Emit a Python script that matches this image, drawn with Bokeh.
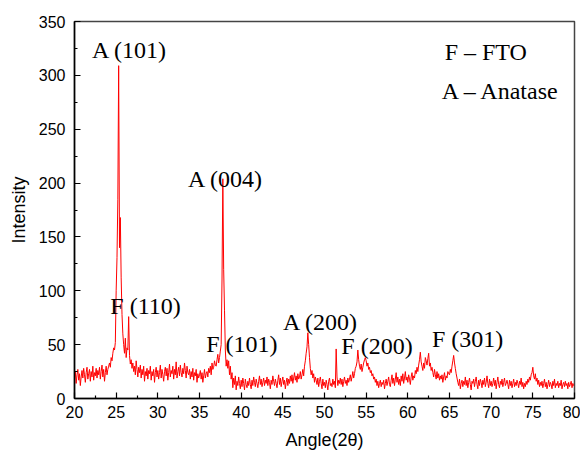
from bokeh.plotting import figure
from bokeh.models import FixedTicker, ColumnDataSource
from bokeh.core.properties import value
from bokeh.embed import file_html
from bokeh.resources import INLINE

# ---- data ----
angle_start = 20.0
angle_step = 0.1
intensity = [
    18, 25, 14, 22, 27, 17, 23, 12, 20, 26,    # 20
    19, 28, 22, 15, 24, 29, 18, 23, 27, 16,    # 21
    25, 20, 30, 17, 24, 21, 28, 19, 26, 22,    # 22
    29, 18, 25, 31, 20, 27, 16, 24, 30, 22,    # 23
    27, 30, 33, 29, 38, 35, 42, 47, 45, 52,    # 24
    100, 131, 185, 309, 140, 168, 112, 78, 60, 50,  # 25
    42, 56, 38, 47, 45, 76, 40, 32, 36, 28,    # 26
    33, 25, 30, 22, 35, 27, 20, 29, 24, 31,    # 27
    19, 27, 22, 30, 16, 25, 21, 28, 18, 26,    # 28
    23, 30, 17, 25, 21, 27, 15, 24, 29, 20,    # 29
    26, 18, 24, 31, 19, 27, 22, 16, 25, 29,    # 30
    21, 28, 17, 24, 32, 20, 26, 23, 30, 18,    # 31
    27, 22, 34, 19, 25, 29, 21, 31, 24, 20,    # 32
    28, 23, 33, 26, 19, 30, 24, 22, 27, 18,    # 33
    25, 20, 28, 17, 24, 21, 27, 15, 23, 19,    # 34
    22, 26, 18, 24, 15, 21, 27, 19, 23, 25,    # 35
    20, 28, 24, 30, 22, 33, 27, 29, 35, 31,    # 36
    30, 36, 41, 33, 38, 44, 50, 110, 204, 120, # 37
    82, 45, 30, 36, 28, 35, 22, 30, 18, 24,    # 38
    10, 19, 13, 21, 8, 16, 12, 20, 14, 9,      # 39
    17, 11, 19, 14, 8, 18, 13, 10, 16, 12,     # 40
    19, 13, 9, 17, 12, 20, 15, 11, 18, 14,     # 41
    10, 16, 21, 13, 18, 11, 15, 19, 12, 17,    # 42
    14, 20, 12, 18, 15, 9, 17, 13, 21, 16,     # 43
    12, 18, 14, 10, 17, 22, 13, 19, 11, 16,    # 44
    20, 13, 17, 9, 15, 19, 12, 18, 14, 21,     # 45
    16, 22, 14, 19, 24, 17, 21, 15, 23, 18,    # 46
    20, 25, 18, 22, 27, 21, 30, 35, 42, 48,    # 47
    61, 50, 38, 28, 22, 26, 19, 23, 15, 20,    # 48
    17, 13, 19, 11, 16, 20, 14, 9, 18, 12,     # 49
    15, 10, 17, 13, 8, 16, 19, 12, 14, 11,     # 50
    18, 13, 16, 10, 46, 20, 12, 17, 14, 19,    # 51
    13, 18, 11, 16, 20, 14, 17, 12, 19, 15,    # 52
    18, 22, 16, 20, 25, 19, 23, 28, 30, 34,    # 53
    45, 36, 30, 27, 32, 25, 29, 33, 36, 38,    # 54
    35, 30, 33, 27, 29, 24, 26, 21, 23, 18,    # 55
    20, 15, 18, 12, 16, 10, 14, 17, 11, 15,    # 56
    13, 17, 9, 14, 18, 12, 16, 20, 13, 11,     # 57
    17, 22, 14, 19, 12, 18, 24, 15, 20, 13,    # 58
    18, 12, 21, 16, 23, 14, 19, 25, 17, 20,    # 59
    15, 22, 18, 13, 20, 24, 17, 21, 19, 26,    # 60
    23, 29, 25, 31, 36, 43, 34, 30, 26, 33,    # 61
    28, 38, 35, 31, 37, 42, 30, 33, 26, 29,    # 62
    24, 20, 27, 22, 18, 25, 19, 23, 17, 21,    # 63
    18, 22, 15, 20, 24, 17, 21, 19, 25, 23,    # 64
    22, 27, 24, 30, 35, 40, 33, 28, 23, 19,    # 65
    15, 12, 18, 9, 14, 17, 11, 16, 13, 20,     # 66
    12, 17, 10, 15, 19, 13, 8, 16, 14, 18,     # 67
    11, 16, 20, 13, 9, 17, 12, 18, 15, 10,     # 68
    17, 13, 19, 11, 15, 21, 14, 10, 18, 12,    # 69
    16, 11, 14, 19, 12, 17, 9, 15, 20, 13,     # 70
    10, 16, 13, 18, 11, 15, 19, 12, 14, 17,    # 71
    13, 9, 17, 12, 16, 10, 14, 18, 11, 15,     # 72
    12, 17, 14, 10, 16, 13, 19, 11, 15, 9,     # 73
    14, 11, 16, 13, 18, 15, 20, 17, 22, 24,    # 74
    29, 21, 18, 23, 16, 19, 13, 17, 11, 15,    # 75
    12, 16, 10, 14, 18, 11, 15, 9, 13, 17,     # 76
    11, 15, 13, 9, 16, 12, 18, 10, 14, 12,     # 77
    16, 10, 14, 12, 17, 9, 13, 15, 11, 16,     # 78
    12, 14, 9, 15, 11, 13, 16, 10, 14, 12,     # 79
    11,                                        # 80
]
angle = [round(angle_start + i * angle_step, 2) for i in range(len(intensity))]

peak_labels = ["A (101)", "A (004)", "F (110)", "F (101)", "A (200)", "F (200)", "F (301)",
               "F \u2013 FTO", "A \u2013 Anatase"]
peak_label_x = [22.1, 33.62, 24.3, 35.8, 45.02, 52.02, 62.9, 64.42, 64.06]
peak_label_y = [323.5, 204.0, 86.1, 50.3, 70.6, 48.9, 55.1, 321.9, 285.7]

x_ticks = [20, 25, 30, 35, 40, 45, 50, 55, 60, 65, 70, 75, 80]
x_minor = [22.5 + 5 * i for i in range(12)]
y_ticks = [0, 50, 100, 150, 200, 250, 300, 350]
y_minor = [25 + 50 * i for i in range(7)]

# ---- figure ----
p = figure(width=580, height=453, x_range=(20, 80), y_range=(0, 350),
           output_backend="svg", toolbar_location=None,
           min_border_left=74, min_border_right=6, min_border_top=21, min_border_bottom=55)

p.line(angle, intensity, line_color="#ff0000", line_width=1.0)

src = ColumnDataSource(dict(x=peak_label_x, y=peak_label_y, t=peak_labels))
p.text(x="x", y="y", text="t", source=src, text_font=value("Liberation Serif"),
       text_font_size="24px", text_color="black", text_align="left",
       text_baseline="alphabetic")

p.xgrid.visible = False
p.ygrid.visible = False
p.outline_line_color = "#444444"
p.outline_line_width = 1.5
p.background_fill_color = "white"
p.border_fill_color = "white"

for ax in (p.xaxis[0], p.yaxis[0]):
    ax.axis_line_color = "black"
    ax.axis_line_width = 1.5
    ax.major_tick_in = 6
    ax.major_tick_out = 0
    ax.minor_tick_in = 3
    ax.minor_tick_out = 0
    ax.major_tick_line_color = "black"
    ax.minor_tick_line_color = "black"
    ax.major_tick_line_width = 1.2
    ax.minor_tick_line_width = 1.2
    ax.major_label_text_font = "Liberation Sans"
    ax.major_label_text_font_size = "16px"
    ax.major_label_text_color = "black"
    ax.axis_label_text_font = "Liberation Sans"
    ax.axis_label_text_font_size = "18px"
    ax.axis_label_text_font_style = "normal"
    ax.axis_label_text_color = "black"

p.xaxis[0].ticker = FixedTicker(ticks=x_ticks, minor_ticks=x_minor)
p.yaxis[0].ticker = FixedTicker(ticks=y_ticks, minor_ticks=y_minor)
p.xaxis[0].axis_label = "Angle(2\u03b8)"
p.yaxis[0].axis_label = "Intensity"
p.xaxis[0].major_label_standoff = 7
p.yaxis[0].major_label_standoff = 9
p.xaxis[0].axis_label_standoff = 9
p.yaxis[0].axis_label_standoff = 7

open("out.html", "w").write(file_html(p, INLINE))
